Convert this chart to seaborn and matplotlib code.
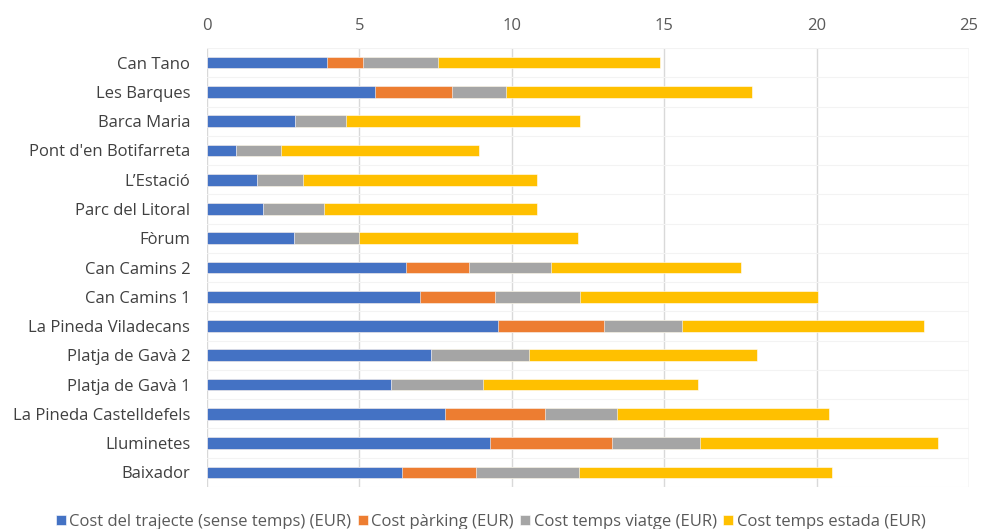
import numpy as np
import pandas as pd
import seaborn as sns
import matplotlib.pyplot as plt

llocs = ["Can Tano", "Les Barques", "Barca Maria", "Pont d'en Botifarreta",
         "L\u2019Estació", "Parc del Litoral", "Fòrum", "Can Camins 2",
         "Can Camins 1", "La Pineda Viladecans", "Platja de Gavà 2",
         "Platja de Gavà 1", "La Pineda Castelldefels", "Lluminetes", "Baixador"]

cost_trajecte = [3.94, 5.52, 2.90, 0.96, 1.63, 1.85, 2.86, 6.54, 7.00, 9.56,
                 7.35, 6.05, 7.82, 9.30, 6.40]
cost_parking = [1.18, 2.51, 0, 0, 0, 0, 0, 2.04, 2.45, 3.48,
                0, 0, 3.27, 4.00, 2.43]
cost_viatge = [2.45, 1.78, 1.67, 1.48, 1.52, 2.00, 2.13, 2.70, 2.80, 2.55,
               3.22, 3.02, 2.36, 2.86, 3.38]
cost_estada = [7.29, 8.06, 7.67, 6.49, 7.68, 6.99, 7.19, 6.23, 7.79, 7.92,
               7.47, 7.04, 6.95, 7.81, 8.29]

series = ["Cost del trajecte (sense temps) (EUR)", "Cost pàrking (EUR)",
          "Cost temps viatge (EUR)", "Cost temps estada (EUR)"]
colors = ["#4472C4", "#ED7D31", "#A5A5A5", "#FFC000"]

df = pd.DataFrame({"lloc": llocs,
                   series[0]: cost_trajecte,
                   series[1]: cost_parking,
                   series[2]: cost_viatge,
                   series[3]: cost_estada})
cum = df[series].cumsum(axis=1)

sns.set_style("white")
plt.rcParams["font.family"] = ["Open Sans", "DejaVu Sans"]
fs = 12

fig = plt.figure(figsize=(9.81, 5.29), dpi=100)
ax = fig.add_axes([207 / 981, 1 - 487 / 529, 762 / 981, (487 - 48) / 529])

# dibuixar de la suma total cap enrere perquè quedi apilat
for s, c in reversed(list(zip(series, colors))):
    sns.barplot(x=cum[s], y=df["lloc"], orient="h", color=c, width=0.4,
                saturation=1, edgecolor="white", linewidth=0.4, ax=ax,
                label=s, zorder=3)

ax.set_xlim(0, 25)
ax.set_ylim(len(llocs) - 0.5, -0.5)
ax.set_xticks([0, 5, 10, 15, 20, 25])
ax.xaxis.tick_top()
ax.tick_params(axis="x", length=0, pad=10, labelsize=fs, labelcolor="#595959")
ax.tick_params(axis="y", length=0, pad=12, labelsize=fs, labelcolor="#404040")
ax.set_xlabel("")
ax.set_ylabel("")

ax.set_yticks(np.arange(-0.5, len(llocs), 0.5), minor=True)
ax.grid(axis="y", which="minor", color="#f3f3f3", linewidth=0.8, zorder=0)
ax.grid(axis="x", which="major", color="#d9d9d9", linewidth=1, zorder=1)
for sp in ax.spines.values():
    sp.set_visible(False)

handles, labels = ax.get_legend_handles_labels()
ax.legend_.remove()
fig.legend(handles[::-1], labels[::-1], loc="lower center",
           bbox_to_anchor=(0.5, -0.03), ncol=4, frameon=False,
           fontsize=fs, labelcolor="#595959", handlelength=0.6,
           handleheight=0.6, handletextpad=0.2, columnspacing=0.4)

fig.savefig("out.png", dpi=100)
